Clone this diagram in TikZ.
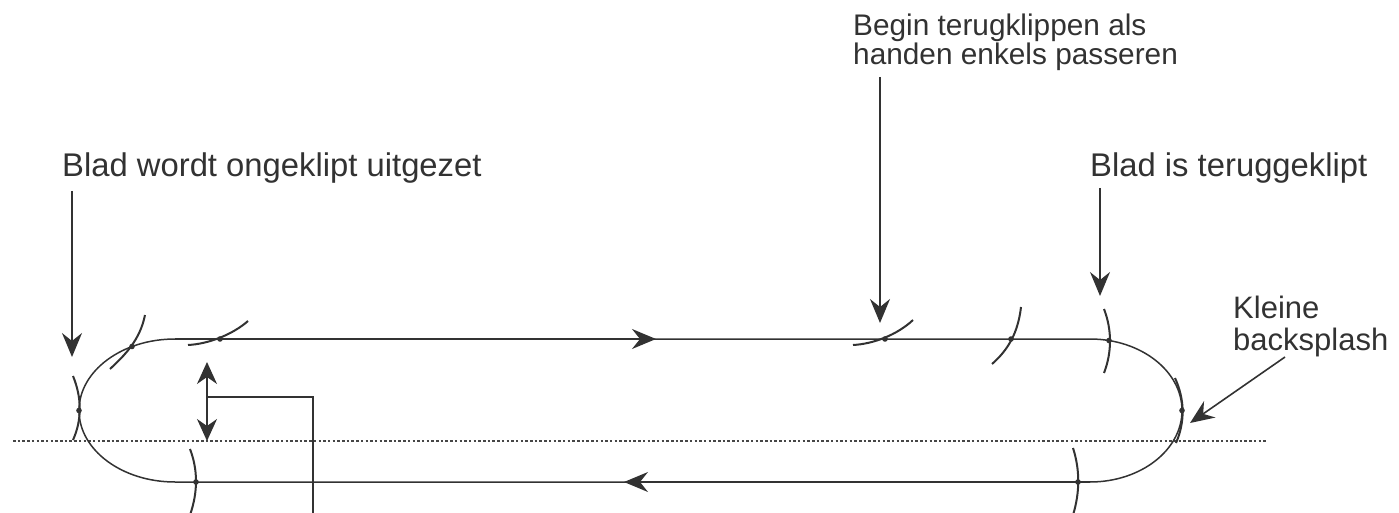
\documentclass[tikz,border=0pt]{standalone}
\usepackage{fontspec}
\setmainfont{Liberation Sans}
\usetikzlibrary{arrows.meta}
\definecolor{ink}{RGB}{50,50,50}
\definecolor{dotc}{RGB}{70,70,70}
\begin{document}
\begin{tikzpicture}[x=1pt,y=-1pt,
  lbl/.style={text=ink, inner sep=0pt, align=left},
  pathline/.style={draw=ink, line width=1.5pt},
  bigtip/.style={-{Stealth[length=24pt,width=20pt,inset=8pt]}},
  leader/.style={draw=ink, line width=1.6pt, bigtip},
  dbl/.style={draw=ink, line width=1.6pt, {Stealth[length=22pt,width=20pt,inset=7pt]}-{Stealth[length=22pt,width=20pt,inset=7pt]}},
  tickmark/.style={draw=ink, line width=2pt},
  dotmark/.style={fill=ink},
  baseline line/.style={draw=dotc, line width=2.2pt, dash pattern=on 2.5pt off 2.2pt},
]
\useasboundingbox (0,0) rectangle (1399,513);

% labels
\node[lbl, font=\fontsize{32.8}{34}\selectfont, anchor=base west] (l1) at (62,177) {Blad wordt ongeklipt uitgezet};
\node[lbl, font=\fontsize{32.8}{34}\selectfont, anchor=base west] (l2) at (1090,177) {Blad is teruggeklipt};
\node[lbl, font=\fontsize{29.8}{29}\selectfont, anchor=base west] (l3) at (853,65) {Begin terugklippen als\\handen enkels passeren};
\node[lbl, font=\fontsize{31}{32}\selectfont, anchor=base west] (l4) at (1233,350) {Kleine\\backsplash};

% dotted reference line
\coordinate (DL) at (13,441);
\coordinate (DR) at (1267,441);
\draw[baseline line] (DL) -- (DR);

% closed path
\coordinate (TL) at (175,339);
\coordinate (TR) at (1090,339);
\coordinate (BR) at (1090,482);
\coordinate (BL) at (175,482);
\draw[pathline] (TL) -- (TR) arc[start angle=-90,end angle=90,x radius=92,y radius=71.5]
  -- (BL) arc[start angle=90,end angle=270,x radius=96,y radius=71.5];
\coordinate (M1) at (656,339);
\coordinate (M2) at (624,482);
\draw[pathline, bigtip] (TL) -- (M1);
\draw[pathline, bigtip] (BR) -- (M2);

% tick marks
\draw[tickmark] (73,376) .. controls (82,398) and (82,420) .. (73,440);
\draw[tickmark] (110,369) .. controls (125,355) and (140,340) .. (145,315);
\draw[tickmark] (188,345) .. controls (208,344) and (232,335) .. (248,321);
\draw[tickmark] (190,449) .. controls (198,470) and (198,492) .. (190,515);
\draw[tickmark] (853,345) .. controls (873,344) and (897,335) .. (913,320);
\draw[tickmark] (992,364) .. controls (1008,350) and (1018,333) .. (1021,307);
\draw[tickmark] (1104,309) .. controls (1112,330) and (1112,352) .. (1104,373);
\draw[tickmark] (1073,448) .. controls (1080,470) and (1080,492) .. (1073,515);
\draw[tickmark] (1175,378) .. controls (1185,400) and (1185,422) .. (1176,443);

% dots
\foreach \p in {(79,410.5),(132,346.5),(220,339),(196,482),(885,339),(1011,339),(1109,340.5),(1078,482),(1182,410.5)}
  \fill[dotmark] \p circle (2.8);

% leader arrows
\coordinate (a1s) at (72,191);  \coordinate (a1e) at (72,357);
\coordinate (a2s) at (880,77);  \coordinate (a2e) at (880,323);
\coordinate (a3s) at (1100,188); \coordinate (a3e) at (1100,296);
\coordinate (a4s) at (1285,357); \coordinate (a4e) at (1190,423);
\draw[leader] (a1s) -- (a1e);
\draw[leader] (a2s) -- (a2e);
\draw[leader] (a3s) -- (a3e);
\draw[leader] (a4s) -- (a4e);

% gap dimension
\coordinate (g1) at (207,362);
\coordinate (g2) at (207,441);
\coordinate (gj) at (207,397);
\coordinate (gc) at (313,397);
\coordinate (gb) at (313,520);
\draw[dbl] (g1) -- (g2);
\draw[pathline] (gj) -- (gc) -- (gb);
\end{tikzpicture}
\end{document}
